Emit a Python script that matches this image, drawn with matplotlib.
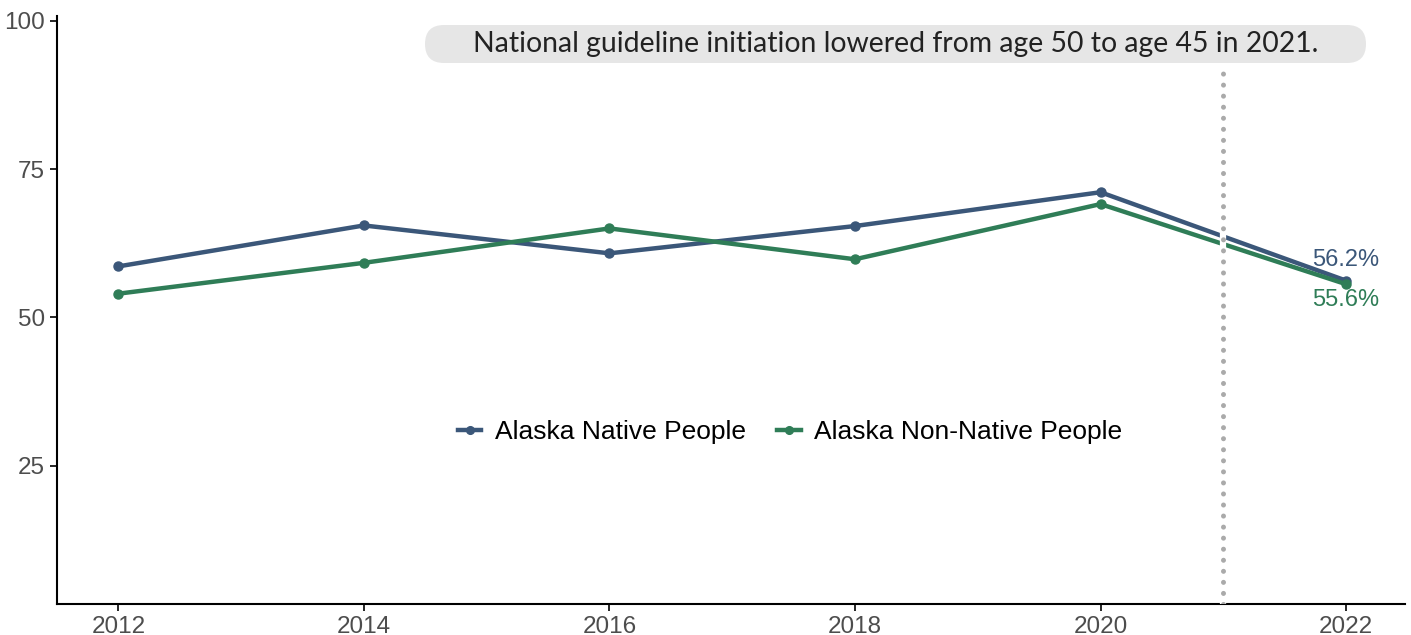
import matplotlib.pyplot as plt
from matplotlib.patches import FancyBboxPatch

# データ
years = [2012, 2014, 2016, 2018, 2020, 2022]
native = [58.6, 65.5, 60.8, 65.4, 71.1, 56.2]
non_native = [54.0, 59.2, 65.0, 59.8, 69.1, 55.6]
series_names = ['Alaska Native People', 'Alaska Non-Native People']
note = 'National guideline initiation lowered from age 50 to age 45 in 2021.'

blue = '#3b5779'
green = '#2f7d57'

fig = plt.figure(figsize=(14.11, 6.35), dpi=100)
ax = fig.add_axes([57 / 1411, 31 / 635, 1348 / 1411, 588 / 635])

ax.plot(years, native, color=blue, lw=3.2, marker='o', ms=6.5,
        label=series_names[0], zorder=3)
ax.plot(years, non_native, color=green, lw=3.2, marker='o', ms=6.5,
        label=series_names[1], zorder=3)

# 2021年の点線
ax.plot([2021, 2021], [1.7, 92.5], color='white', lw=4.5, zorder=4,
        solid_capstyle='butt')
ax.plot([2021, 2021], [1.7, 92.5], color='#aaaaaa', lw=3.6, ls=(0, (0.01, 2.2)),
        dash_capstyle='round', zorder=5)

# 最終値ラベル
ax.text(years[-1], native[-1] + 1.6, f'{native[-1]}%', color=blue,
        fontsize=17, ha='center', va='bottom', family='Liberation Sans')
ax.text(years[-1], non_native[-1] - 0.8, f'{non_native[-1]}%', color=green,
        fontsize=17, ha='center', va='top', family='Liberation Sans')

# 注記（角丸ボックス）
box = FancyBboxPatch((4.25, 5.72), 9.41, 0.38,
                     boxstyle='round,pad=0,rounding_size=0.19',
                     transform=fig.dpi_scale_trans, fc='#e6e6e6', ec='none')
fig.patches.append(box)
fig.text(8.955 / 14.11, 5.91 / 6.35, note, fontsize=20.4, family='Lato',
         color='#222222', ha='center', va='center')

ax.set_xlim(2011.5, 2022.48)
ax.set_ylim(1.7, 100.8)
ax.set_xticks(years)
ax.set_yticks([25, 50, 75, 100])
for s in ['top', 'right']:
    ax.spines[s].set_visible(False)
for s in ['left', 'bottom']:
    ax.spines[s].set_linewidth(1.5)
ax.tick_params(length=5, width=1.2, labelsize=17.5, labelcolor='#4d4d4d')
for lab in ax.get_xticklabels() + ax.get_yticklabels():
    lab.set_family('Liberation Sans')

leg = ax.legend(loc='center', bbox_to_anchor=((790 - 57) / 1348, (614 - 432) / 588 - 0.017),
                ncol=2, frameon=False, handlelength=0.9, markerscale=0.85,
                columnspacing=1.2, handletextpad=0.5,
                prop={'family': 'Liberation Sans', 'size': 19})

plt.savefig('out.png', dpi=100)
